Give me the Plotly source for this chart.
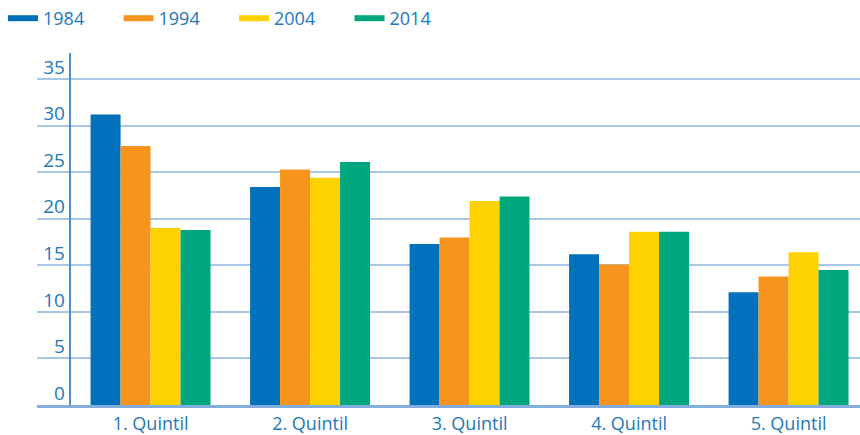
import plotly.graph_objects as go

categories = ["1. Quintil", "2. Quintil", "3. Quintil", "4. Quintil", "5. Quintil"]
years = ["1984", "1994", "2004", "2014"]
v1984 = [31.2, 23.4, 17.3, 16.2, 12.1]
v1994 = [27.8, 25.3, 18.0, 15.1, 13.8]
v2004 = [19.0, 24.4, 21.9, 18.6, 16.4]
v2014 = [18.8, 26.1, 22.4, 18.6, 14.5]
colors = ["#0071BA", "#F7941E", "#FED200", "#00A77E"]
series = [v1984, v1994, v2004, v2014]

FONT = "Open Sans"
TXT = "#2278bb"

fig = go.Figure()
for name, vals, col in zip(years, series, colors):
    fig.add_trace(go.Bar(x=categories, y=vals, name=name, marker_color=col,
                         marker_line_width=0, showlegend=False))
# legend entries drawn as short thick lines
for name, col in zip(years, colors):
    fig.add_trace(go.Scatter(x=[None], y=[None], mode="lines", name=name,
                             line=dict(color=col, width=6), showlegend=True))

fig.update_layout(
    width=860, height=435,
    margin=dict(l=37, r=0, t=53, b=30, autoexpand=False),
    paper_bgcolor="white", plot_bgcolor="white",
    barmode="group", bargap=0.248, bargroupgap=0,
    font=dict(family=FONT, size=18, color=TXT),
    legend=dict(orientation="h", xref="container", yref="container",
                x=0.0035, y=1.0, xanchor="left", yanchor="top",
                entrywidth=70.5, font=dict(size=18, color=TXT),
                itemwidth=30, tracegroupgap=0),
    xaxis=dict(type="category", range=[-0.712, 4.448], showgrid=False,
               showline=True, linecolor="#83aedb", linewidth=3,
               ticks="", tickfont=dict(size=18, color=TXT), fixedrange=True),
    yaxis=dict(range=[0, 37.8], tickvals=[0, 5, 10, 15, 20, 25, 30, 35],
               showgrid=True, gridcolor="#a9c6e8", gridwidth=1.5,
               zeroline=False, anchor="free", position=0.0407,
               showline=True, linecolor="#4a8fd0", linewidth=1.5,
               ticks="", ticklabelshift=-12, ticklabelstandoff=1,
               tickfont=dict(size=19, color=TXT), fixedrange=True),
)

fig.write_html("out.html", config={"displayModeBar": False},
               post_script="document.body.style.margin='0';")
